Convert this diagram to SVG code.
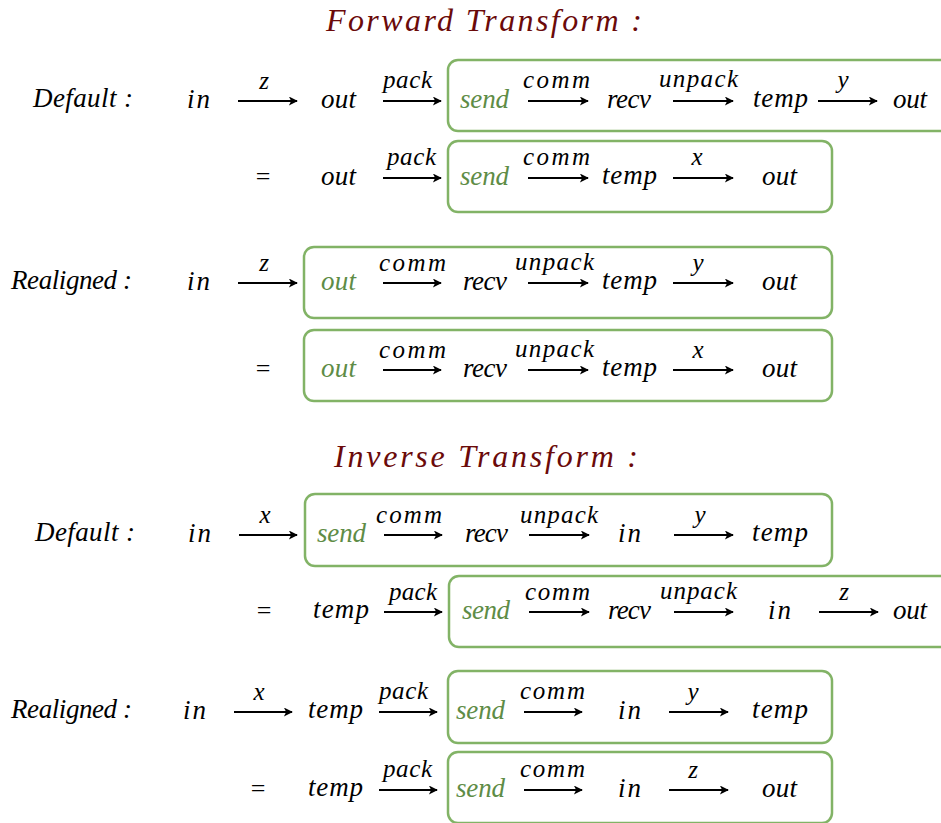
<svg xmlns="http://www.w3.org/2000/svg" width="941" height="823" viewBox="0 0 941 823">
  <style>
    text { font-family: "Liberation Serif", "DejaVu Serif", serif; font-style: italic; fill: #000; }
    .t { font-size: 27px; }
    .l { font-size: 25px; }
    .g { fill: #5e8c46; }
    .h { font-size: 32px; fill: #6b0a0a; }
    .up { font-style: normal; font-size: 26px; }
    .box { fill: none; stroke: #82b366; stroke-width: 2.5; }
    .arr { stroke: #000; stroke-width: 1.8; fill: none; marker-end: url(#ah); }
  </style>
  <defs>
    <marker id="ah" viewBox="0 0 10 10" refX="9" refY="5" markerWidth="10" markerHeight="9" markerUnits="userSpaceOnUse" orient="auto">
      <path d="M0,0 L10,5 L0,10 L2.5,5 Z" fill="#000"/>
    </marker>
  </defs>

  <!-- section headings -->
  <g id="title-forward"><text class="h" x="326" y="31" textLength="316" lengthAdjust="spacing">Forward  Transform :</text></g>
  <g id="title-inverse"><text class="h" x="334" y="467" textLength="304" lengthAdjust="spacing">Inverse  Transform :</text></g>

  <!-- grouping boxes -->
  <g id="boxes">
    <rect id="box-f1" class="box" x="448" y="60" width="505" height="71" rx="10"/>
    <rect id="box-f2" class="box" x="448" y="141" width="384" height="71" rx="10"/>
    <rect id="box-f3" class="box" x="304" y="247" width="528" height="71" rx="10"/>
    <rect id="box-f4" class="box" x="304" y="330" width="528" height="71" rx="10"/>
    <rect id="box-i1" class="box" x="305" y="494" width="527" height="72" rx="10"/>
    <rect id="box-i2" class="box" x="449" y="576" width="504" height="71" rx="10"/>
    <rect id="box-i3" class="box" x="448" y="671" width="384" height="72" rx="10"/>
    <rect id="box-i4" class="box" x="448" y="752" width="384" height="71" rx="10"/>
  </g>

  <!-- connectors -->
  <g id="connectors">
    <!-- forward, default -->
    <line class="arr" x1="238" y1="101" x2="297" y2="101"/>
    <line class="arr" x1="383" y1="101" x2="441" y2="101"/>
    <line class="arr" x1="528" y1="101" x2="588" y2="101"/>
    <line class="arr" x1="673" y1="101" x2="733" y2="101"/>
    <line class="arr" x1="818" y1="101" x2="877" y2="101"/>
    <line class="arr" x1="383" y1="178" x2="441" y2="178"/>
    <line class="arr" x1="528" y1="178" x2="588" y2="178"/>
    <line class="arr" x1="673" y1="178" x2="733" y2="178"/>
    <!-- forward, realigned -->
    <line class="arr" x1="238" y1="283" x2="297" y2="283"/>
    <line class="arr" x1="383" y1="283" x2="441" y2="283"/>
    <line class="arr" x1="528" y1="283" x2="588" y2="283"/>
    <line class="arr" x1="673" y1="283" x2="733" y2="283"/>
    <line class="arr" x1="383" y1="370" x2="441" y2="370"/>
    <line class="arr" x1="528" y1="370" x2="588" y2="370"/>
    <line class="arr" x1="673" y1="370" x2="733" y2="370"/>
    <!-- inverse, default -->
    <line class="arr" x1="239" y1="535" x2="297" y2="535"/>
    <line class="arr" x1="384" y1="535" x2="442" y2="535"/>
    <line class="arr" x1="529" y1="535" x2="589" y2="535"/>
    <line class="arr" x1="674" y1="535" x2="733" y2="535"/>
    <line class="arr" x1="384" y1="612" x2="442" y2="612"/>
    <line class="arr" x1="529" y1="612" x2="589" y2="612"/>
    <line class="arr" x1="674" y1="612" x2="733" y2="612"/>
    <line class="arr" x1="819" y1="612" x2="878" y2="612"/>
    <!-- inverse, realigned -->
    <line class="arr" x1="234" y1="712" x2="292" y2="712"/>
    <line class="arr" x1="379" y1="712" x2="437" y2="712"/>
    <line class="arr" x1="524" y1="712" x2="582" y2="712"/>
    <line class="arr" x1="669" y1="712" x2="728" y2="712"/>
    <line class="arr" x1="379" y1="790" x2="437" y2="790"/>
    <line class="arr" x1="524" y1="790" x2="582" y2="790"/>
    <line class="arr" x1="669" y1="790" x2="728" y2="790"/>
  </g>

  <!-- connector labels -->
  <g id="labels">
    <text class="l" x="264" y="89" text-anchor="middle">z</text>
    <text class="l" x="383" y="88" textLength="49" lengthAdjust="spacing">pack</text>
    <text class="l" x="523" y="88" textLength="67" lengthAdjust="spacing">comm</text>
    <text class="l" x="659" y="87" textLength="79" lengthAdjust="spacing">unpack</text>
    <text class="l" x="843" y="88" text-anchor="middle">y</text>
    <text class="l" x="387" y="165" textLength="49" lengthAdjust="spacing">pack</text>
    <text class="l" x="523" y="165" textLength="67" lengthAdjust="spacing">comm</text>
    <text class="l" x="697" y="165" text-anchor="middle">x</text>

    <text class="l" x="264" y="271" text-anchor="middle">z</text>
    <text class="l" x="379" y="271" textLength="67" lengthAdjust="spacing">comm</text>
    <text class="l" x="515" y="270" textLength="79" lengthAdjust="spacing">unpack</text>
    <text class="l" x="698" y="271" text-anchor="middle">y</text>
    <text class="l" x="379" y="358" textLength="67" lengthAdjust="spacing">comm</text>
    <text class="l" x="515" y="357" textLength="79" lengthAdjust="spacing">unpack</text>
    <text class="l" x="698" y="358" text-anchor="middle">x</text>

    <text class="l" x="265" y="523" text-anchor="middle">x</text>
    <text class="l" x="376" y="523" textLength="66" lengthAdjust="spacing">comm</text>
    <text class="l" x="520" y="523" textLength="78" lengthAdjust="spacing">unpack</text>
    <text class="l" x="700" y="523" text-anchor="middle">y</text>
    <text class="l" x="389" y="600" textLength="48" lengthAdjust="spacing">pack</text>
    <text class="l" x="525" y="600" textLength="65" lengthAdjust="spacing">comm</text>
    <text class="l" x="660" y="599" textLength="77" lengthAdjust="spacing">unpack</text>
    <text class="l" x="844" y="600" text-anchor="middle">z</text>

    <text class="l" x="259" y="700" text-anchor="middle">x</text>
    <text class="l" x="379" y="699" textLength="49" lengthAdjust="spacing">pack</text>
    <text class="l" x="520" y="699" textLength="65" lengthAdjust="spacing">comm</text>
    <text class="l" x="693" y="700" text-anchor="middle">y</text>
    <text class="l" x="383" y="777" textLength="49" lengthAdjust="spacing">pack</text>
    <text class="l" x="520" y="777" textLength="65" lengthAdjust="spacing">comm</text>
    <text class="l" x="693" y="778" text-anchor="middle">z</text>
  </g>

  <!-- forward transform, default -->
  <g id="fwd-default">
    <g id="fd-head"><text class="t" x="33" y="107" textLength="100" lengthAdjust="spacing">Default :</text></g>
    <g id="fd-in"><text class="t" x="187" y="108" textLength="23" lengthAdjust="spacing">in</text></g>
    <g id="fd-out1"><text class="t" x="321" y="108" textLength="35" lengthAdjust="spacing">out</text></g>
    <g id="fd-send"><text class="t g" x="460" y="108" textLength="49" lengthAdjust="spacing">send</text></g>
    <g id="fd-recv"><text class="t" x="607" y="108" textLength="44" lengthAdjust="spacing">recv</text></g>
    <g id="fd-temp"><text class="t" x="753" y="107" textLength="55" lengthAdjust="spacing">temp</text></g>
    <g id="fd-out2"><text class="t" x="893" y="108" textLength="34" lengthAdjust="spacing">out</text></g>
  </g>
  <g id="fwd-default-eq">
    <g id="fde-eq"><text class="up" x="263" y="185" text-anchor="middle">=</text></g>
    <g id="fde-out1"><text class="t" x="321" y="185" textLength="35" lengthAdjust="spacing">out</text></g>
    <g id="fde-send"><text class="t g" x="460" y="185" textLength="49" lengthAdjust="spacing">send</text></g>
    <g id="fde-temp"><text class="t" x="602" y="184" textLength="55" lengthAdjust="spacing">temp</text></g>
    <g id="fde-out2"><text class="t" x="762" y="185" textLength="35" lengthAdjust="spacing">out</text></g>
  </g>

  <!-- forward transform, realigned -->
  <g id="fwd-realigned">
    <g id="fr-head"><text class="t" x="11" y="289" textLength="121" lengthAdjust="spacing">Realigned :</text></g>
    <g id="fr-in"><text class="t" x="187" y="290" textLength="23" lengthAdjust="spacing">in</text></g>
    <g id="fr-out1"><text class="t g" x="321" y="290" textLength="35" lengthAdjust="spacing">out</text></g>
    <g id="fr-recv"><text class="t" x="463" y="290" textLength="44" lengthAdjust="spacing">recv</text></g>
    <g id="fr-temp"><text class="t" x="602" y="289" textLength="55" lengthAdjust="spacing">temp</text></g>
    <g id="fr-out2"><text class="t" x="762" y="290" textLength="35" lengthAdjust="spacing">out</text></g>
  </g>
  <g id="fwd-realigned-eq">
    <g id="fre-eq"><text class="up" x="263" y="377" text-anchor="middle">=</text></g>
    <g id="fre-out1"><text class="t g" x="321" y="377" textLength="35" lengthAdjust="spacing">out</text></g>
    <g id="fre-recv"><text class="t" x="463" y="377" textLength="44" lengthAdjust="spacing">recv</text></g>
    <g id="fre-temp"><text class="t" x="602" y="376" textLength="55" lengthAdjust="spacing">temp</text></g>
    <g id="fre-out2"><text class="t" x="762" y="377" textLength="35" lengthAdjust="spacing">out</text></g>
  </g>

  <!-- inverse transform, default -->
  <g id="inv-default">
    <g id="id-head"><text class="t" x="35" y="541" textLength="100" lengthAdjust="spacing">Default :</text></g>
    <g id="id-in1"><text class="t" x="188" y="542" textLength="23" lengthAdjust="spacing">in</text></g>
    <g id="id-send"><text class="t g" x="317" y="542" textLength="49" lengthAdjust="spacing">send</text></g>
    <g id="id-recv"><text class="t" x="465" y="542" textLength="43" lengthAdjust="spacing">recv</text></g>
    <g id="id-in2"><text class="t" x="618" y="542" textLength="23" lengthAdjust="spacing">in</text></g>
    <g id="id-temp"><text class="t" x="752" y="541" textLength="56" lengthAdjust="spacing">temp</text></g>
  </g>
  <g id="inv-default-eq">
    <g id="ide-eq"><text class="up" x="264" y="619" text-anchor="middle">=</text></g>
    <g id="ide-temp"><text class="t" x="313" y="618" textLength="56" lengthAdjust="spacing">temp</text></g>
    <g id="ide-send"><text class="t g" x="462" y="619" textLength="48" lengthAdjust="spacing">send</text></g>
    <g id="ide-recv"><text class="t" x="608" y="619" textLength="43" lengthAdjust="spacing">recv</text></g>
    <g id="ide-in"><text class="t" x="768" y="619" textLength="23" lengthAdjust="spacing">in</text></g>
    <g id="ide-out"><text class="t" x="893" y="619" textLength="34" lengthAdjust="spacing">out</text></g>
  </g>

  <!-- inverse transform, realigned -->
  <g id="inv-realigned">
    <g id="ir-head"><text class="t" x="11" y="718" textLength="121" lengthAdjust="spacing">Realigned :</text></g>
    <g id="ir-in1"><text class="t" x="183" y="719" textLength="23" lengthAdjust="spacing">in</text></g>
    <g id="ir-temp1"><text class="t" x="308" y="718" textLength="55" lengthAdjust="spacing">temp</text></g>
    <g id="ir-send"><text class="t g" x="456" y="719" textLength="49" lengthAdjust="spacing">send</text></g>
    <g id="ir-in2"><text class="t" x="618" y="719" textLength="23" lengthAdjust="spacing">in</text></g>
    <g id="ir-temp2"><text class="t" x="752" y="718" textLength="56" lengthAdjust="spacing">temp</text></g>
  </g>
  <g id="inv-realigned-eq">
    <g id="ire-eq"><text class="up" x="258" y="797" text-anchor="middle">=</text></g>
    <g id="ire-temp"><text class="t" x="308" y="796" textLength="55" lengthAdjust="spacing">temp</text></g>
    <g id="ire-send"><text class="t g" x="456" y="797" textLength="49" lengthAdjust="spacing">send</text></g>
    <g id="ire-in"><text class="t" x="618" y="797" textLength="23" lengthAdjust="spacing">in</text></g>
    <g id="ire-out"><text class="t" x="762" y="797" textLength="35" lengthAdjust="spacing">out</text></g>
  </g>
</svg>
